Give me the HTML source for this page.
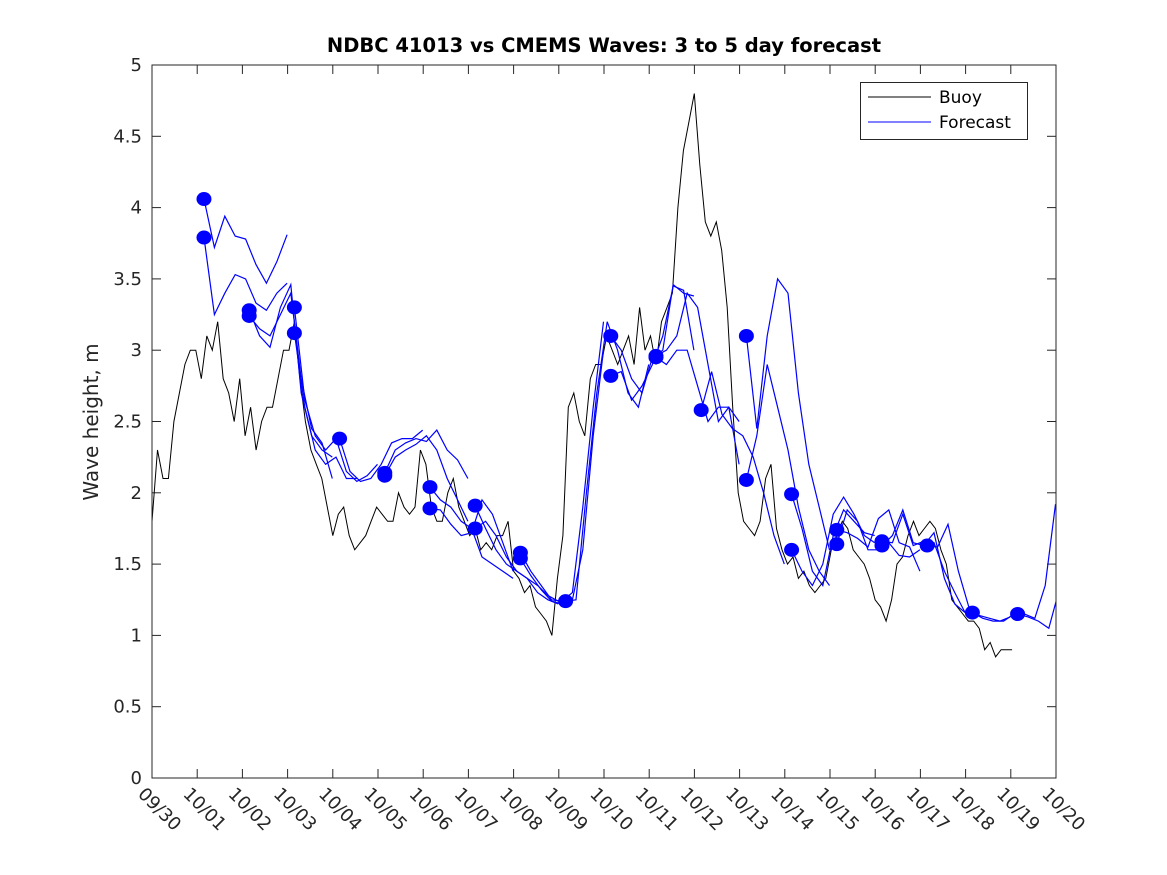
<!DOCTYPE html>
<html><head><meta charset="utf-8"><style>
body{margin:0;background:#fff;}
svg{display:block;font-family:"DejaVu Sans","Liberation Sans",sans-serif;}
</style></head><body>
<svg id="chart" width="1167" height="875" viewBox="0 0 1167 875">
<rect width="1167" height="875" fill="#fff"/>
<text x="604" y="52" text-anchor="middle" font-size="19.5" font-weight="bold" fill="#000">NDBC 41013 vs CMEMS Waves: 3 to 5 day forecast</text>
<text transform="translate(98,422) rotate(-90)" text-anchor="middle" font-size="20" fill="#262626">Wave height, m</text>
<defs><clipPath id="pc"><rect x="152" y="65" width="904" height="713"/></clipPath></defs>
<g id="axes"></g>
<g id="marks" clip-path="url(#pc)"></g>
<rect x="152" y="65" width="904" height="713" fill="none" stroke="#262626" stroke-width="1"/>
<g>
<rect x="860.5" y="82.5" width="167" height="57" fill="#fff" stroke="#262626"/>
<line x1="868" y1="97" x2="931" y2="97" stroke="#000"/>
<text x="939" y="103" font-size="17" fill="#000">Buoy</text>
<line x1="868" y1="122" x2="931" y2="122" stroke="#0000ff"/>
<text x="939" y="128" font-size="17" fill="#000">Forecast</text>
</g>
</svg>
<script>
const xTickLabels = ["09/30","10/01","10/02","10/03","10/04","10/05","10/06","10/07","10/08","10/09","10/10","10/11","10/12","10/13","10/14","10/15","10/16","10/17","10/18","10/19","10/20"];
const yTicks = [0,0.5,1,1.5,2,2.5,3,3.5,4,4.5,5];
const buoyStep = 0.1212;
const buoyValues = [1.8,2.3,2.1,2.1,2.5,2.7,2.9,3.0,3.0,2.8,3.1,3.0,3.2,2.8,2.7,2.5,2.8,2.4,2.6,2.3,2.5,2.6,2.6,2.8,3.0,3.0,3.2,2.8,2.5,2.3,2.2,2.1,1.9,1.7,1.85,1.9,1.7,1.6,1.65,1.7,1.8,1.9,1.85,1.8,1.8,2.0,1.9,1.85,1.9,2.3,2.2,1.9,1.8,1.8,2.0,2.1,1.9,1.8,1.7,1.75,1.6,1.65,1.6,1.7,1.7,1.8,1.45,1.4,1.3,1.35,1.2,1.15,1.1,1.0,1.4,1.7,2.6,2.7,2.5,2.4,2.8,2.9,2.9,3.1,3.0,2.9,3.0,3.1,2.9,3.3,3.0,3.1,2.9,3.2,3.3,3.4,4.0,4.4,4.6,4.8,4.3,3.9,3.8,3.9,3.7,3.3,2.6,2.0,1.8,1.75,1.7,1.8,2.1,2.2,1.75,1.6,1.5,1.55,1.4,1.45,1.35,1.3,1.35,1.4,1.6,1.7,1.8,1.75,1.6,1.55,1.5,1.4,1.25,1.2,1.1,1.25,1.5,1.55,1.7,1.8,1.7,1.75,1.8,1.75,1.6,1.5,1.25,1.2,1.15,1.1,1.1,1.05,0.9,0.95,0.85,0.9,0.9,0.9];
const fcStep = 0.23;
const fcStarts = [1.15,1.15,2.15,2.15,3.15,3.15,4.15,5.15,5.15,6.15,6.15,7.15,7.15,8.15,8.15,9.15,10.15,10.15,11.15,11.15,12.15,13.15,13.15,14.15,14.15,15.15,15.15,16.15,16.15,17.15,18.15,19.15];
const fcValues = [
[4.06,3.72,3.94,3.80,3.78,3.60,3.47,3.62,3.81],
[3.79,3.25,3.40,3.53,3.50,3.33,3.28,3.40,3.47],
[3.28,3.10,3.02,3.30,3.46,2.70,2.40,2.30,2.25],
[3.24,3.15,3.10,3.25,3.40,2.80,2.45,2.35,2.10],
[3.30,2.65,2.40,2.30,2.38,2.15,2.08,2.12,2.20],
[3.12,2.60,2.30,2.20,2.25,2.10,2.10],
[2.38,2.15,2.08,2.10,2.20,2.35,2.38,2.38,2.44],
[2.14,2.30,2.35,2.38,2.36,2.44,2.30,2.23,2.10],
[2.12,2.25,2.30,2.34,2.40,2.30,2.10,1.95,1.80],
[2.04,1.95,1.90,1.80,1.75,1.55,1.50,1.45,1.40],
[1.89,1.88,1.78,1.70,1.72,1.95,1.85,1.65,1.45],
[1.91,1.75,1.60,1.50,1.45,1.40,1.30,1.25,1.22],
[1.75,1.80,1.70,1.55,1.45,1.40,1.35,1.28,1.24],
[1.58,1.45,1.35,1.25,1.24,1.30,1.90,2.60,3.20],
[1.54,1.42,1.32,1.24,1.22,1.25,1.60,2.40,3.00],
[1.24,1.25,2.00,2.70,3.20,3.00,2.70,2.60,2.90],
[3.10,3.00,2.80,2.70,2.95,3.00,3.46,3.40,3.38],
[2.82,2.85,2.65,2.75,2.90,3.10,3.45,3.42,3.00],
[2.96,3.00,3.10,3.40,3.30,2.90,2.50,2.60,2.50],
[2.95,2.90,3.00,3.00,2.75,2.50,2.60,2.60,2.20],
[2.58,2.85,2.55,2.45,2.40,2.25,2.00,1.70,1.50],
[3.10,2.45,3.10,3.50,3.40,2.70,2.20,1.90,1.60],
[2.09,2.40,2.90,2.60,2.30,1.90,1.60,1.45,1.35],
[1.99,1.75,1.45,1.35,1.70,1.88,1.80,1.72,1.70],
[1.60,1.45,1.35,1.50,1.85,1.97,1.85,1.70,1.65],
[1.74,1.72,1.68,1.62,1.82,1.88,1.65,1.62,1.45],
[1.64,1.88,1.80,1.60,1.60,1.65,1.56,1.55,1.60],
[1.66,1.65,1.85,1.63,1.66,1.65,1.45,1.30,1.16],
[1.63,1.70,1.88,1.65,1.63,1.72,1.40,1.22,1.16],
[1.63,1.62,1.78,1.45,1.20,1.14,1.12,1.10,1.13],
[1.16,1.12,1.10,1.10,1.15,1.15,1.12,1.35,1.92],
[1.15,1.13,1.10,1.05,1.32,1.60]
];
const NS="http://www.w3.org/2000/svg";
const X0=152,X1=1056,Y0=778,Y1=65;
function xs(d){return X0+(X1-X0)*d/20;}
function ys(v){return Y0-(Y0-Y1)*v/5;}
function mk(t,a,parent){const e=document.createElementNS(NS,t);for(const k in a)e.setAttribute(k,a[k]);parent.appendChild(e);return e;}
const axes=document.getElementById('axes');
const marks=document.getElementById('marks');
xTickLabels.forEach((lab,i)=>{
  const x=xs(i);
  const t1=mk('line',{x1:x,y1:Y0,x2:x,y2:Y0-9,stroke:'#262626'},axes);
  
  
  const t2=mk('line',{x1:x,y1:Y1,x2:x,y2:Y1+9,stroke:'#262626'},axes);
  
  
  const tx=mk('text',{transform:`translate(${x-15},795) rotate(45)`,'font-size':'18',fill:'#262626'},axes);
  tx.textContent=lab;
  
  
});
yTicks.forEach(v=>{
  const y=ys(v);
  const t1=mk('line',{x1:X0,y1:y,x2:X0+9,y2:y,stroke:'#262626'},axes);
  
  
  const t2=mk('line',{x1:X1,y1:y,x2:X1-9,y2:y,stroke:'#262626'},axes);
  
  
  const tx=mk('text',{x:X0-10,y:y+6,'text-anchor':'end','font-size':'18',fill:'#262626'},axes);
  tx.textContent=String(v);
  
  
});
let bp='';
buoyValues.forEach((v,i)=>{const x=xs(i*buoyStep),y=ys(v);bp+=(i?'L':'M')+x.toFixed(1)+','+y.toFixed(1);});
const bl=mk('path',{d:bp,fill:'none',stroke:'#000','stroke-width':1},marks);


fcValues.forEach((arr,k)=>{
  let p='';
  arr.forEach((v,i)=>{p+=(i?'L':'M')+xs(fcStarts[k]+i*fcStep).toFixed(1)+','+ys(v).toFixed(1);});
  const l=mk('path',{d:p,fill:'none',stroke:'#0000ff','stroke-width':1.2},marks);
  
  
});
fcValues.forEach((arr,k)=>{
  const c=mk('ellipse',{cx:xs(fcStarts[k]),cy:ys(arr[0]),rx:7.5,ry:7,fill:'#0000ff'},marks);
  
  
});
</script>
</body></html>
